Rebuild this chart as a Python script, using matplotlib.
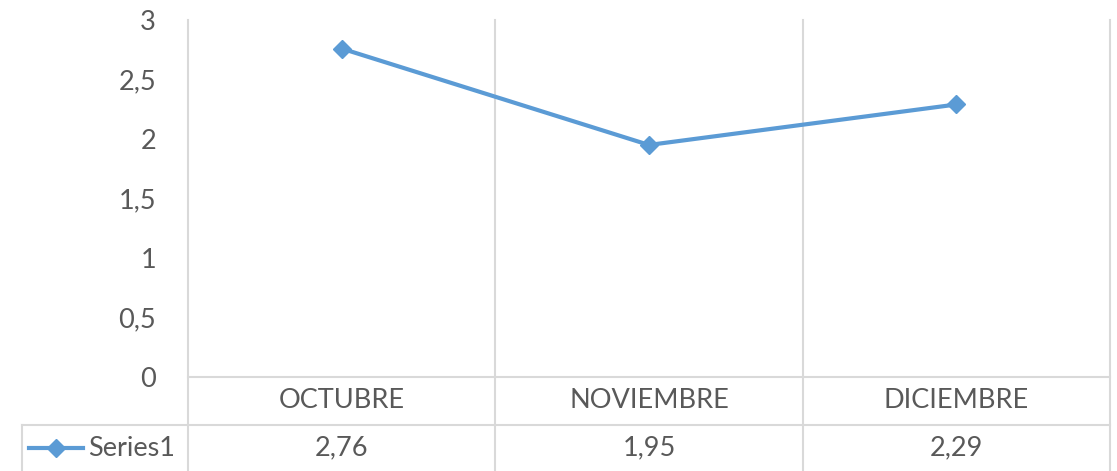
import matplotlib.pyplot as plt
from matplotlib.transforms import blended_transform_factory
from matplotlib.lines import Line2D

categories = ['OCTUBRE', 'NOVIEMBRE', 'DICIEMBRE']
values = [2.76, 1.95, 2.29]
value_labels = ['2,76', '1,95', '2,29']
series_name = 'Series1'
yticks = [0, 0.5, 1, 1.5, 2, 2.5, 3]
ytick_labels = ['0', '0,5', '1', '1,5', '2', '2,5', '3']

W, H = 1117, 471
blue = '#5B9BD5'
grid = '#D9D9D9'
txt = '#595959'
fs = 19.5
plt.rcParams['font.family'] = ['Lato', 'DejaVu Sans']

fig = plt.figure(figsize=(W / 100, H / 100), dpi=100)
ax = fig.add_axes([188 / W, (H - 377) / H, (1110 - 188) / W, (377 - 20) / H])
ax.patch.set_visible(False)

xs = [i + 0.5 for i in range(len(categories))]
ax.plot(xs, values, color=blue, lw=3, marker='D', ms=9.5, zorder=5)

ax.set_xlim(0, len(categories))
ax.set_ylim(0, 3)
ax.set_yticks(yticks)
ax.set_yticklabels(ytick_labels, fontsize=fs, color=txt)
ax.tick_params(axis='y', length=0, pad=23)
ax.set_xticks([])
for s in ax.spines.values():
    s.set_visible(False)

# fig pixel y -> figure fraction
def fy(p):
    return (H - p) / H

tr = blended_transform_factory(ax.transData, fig.transFigure)
ftr = fig.transFigure

# vertical grid lines through the table
for i in range(len(categories) + 1):
    fig.add_artist(Line2D([i, i], [fy(20), fy(H + 5)], transform=tr, color=grid, lw=1.5, zorder=0))
# axis line at 0 and table row line
fig.add_artist(Line2D([0, 3], [fy(377), fy(377)], transform=tr, color=grid, lw=1.5))
fig.add_artist(Line2D([22 / W, 1110 / W], [fy(425), fy(425)], transform=ftr, color=grid, lw=1.5))
fig.add_artist(Line2D([22 / W, 22 / W], [fy(425), fy(H + 5)], transform=ftr, color=grid, lw=1.5))

for x, c, v in zip(xs, categories, value_labels):
    fig.text(x, fy(401), c, transform=tr, ha='center', va='center', fontsize=fs, color=txt)
    fig.text(x, fy(448), v, transform=tr, ha='center', va='center', fontsize=fs, color=txt)

# legend key
fig.add_artist(Line2D([29 / W, 83 / W], [fy(448), fy(448)], transform=ftr, color=blue, lw=3))
fig.add_artist(Line2D([56 / W], [fy(448)], transform=ftr, color=blue, marker='D', ms=9.5))
fig.text(88 / W, fy(448), series_name, ha='left', va='center', fontsize=fs, color=txt)

fig.savefig('out.png', dpi=100)
